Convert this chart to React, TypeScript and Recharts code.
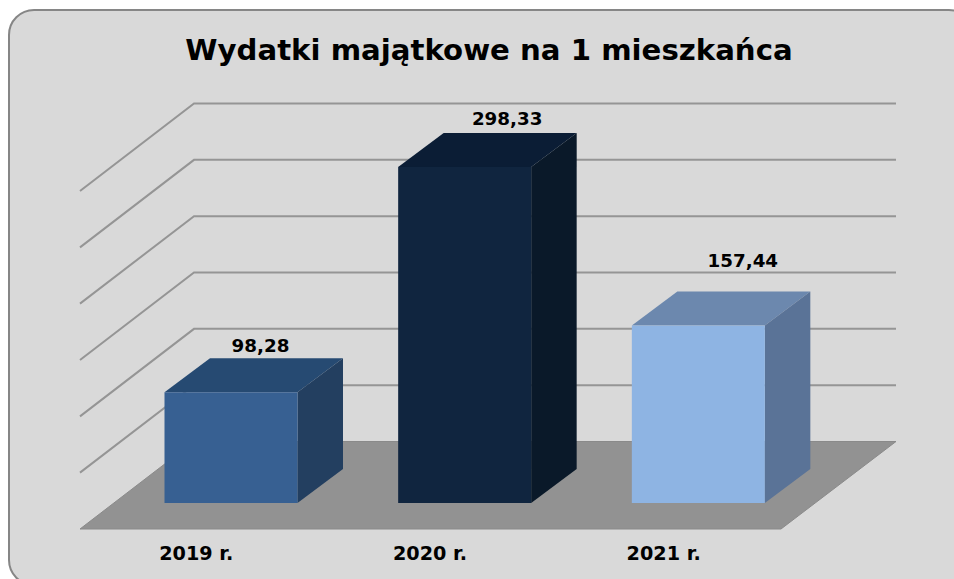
import { BarChart, Bar, XAxis, YAxis, CartesianGrid, LabelList } from 'recharts';

const years = ['2019 r.', '2020 r.', '2021 r.'];
const values = [98.28, 298.33, 157.44];
const valueLabels = ['98,28', '298,33', '157,44'];
const yTicks = [0, 50, 100, 150, 200, 250, 300];

// front, top, side
const barColors = [
  ['#376092', '#264a72', '#233f60'],
  ['#10253f', '#0b1d35', '#0a1929'],
  ['#8eb4e3', '#6c88ae', '#5a7397'],
];
// the source chart does not center its labels the same way on every bar
const labelNudge = [
  { dx: 29.5, dy: -47 },
  { dx: 42.5, dy: -48 },
  { dx: 44.5, dy: -65 },
];

const data = years.map((year, i) => ({ year, value: values[i], label: valueLabels[i], index: i }));

const FONT = '"DejaVu Sans", Verdana, sans-serif';
const BAR_DX = 45.5;
const BAR_DY = 34;

function Box3D({ x, y, width, height, index }: any) {
  const [front, top, side] = barColors[index];
  const r = x + width;
  const b = y + height;
  return (
    <g>
      <polygon points={`${x},${y} ${x + BAR_DX},${y - BAR_DY} ${r + BAR_DX},${y - BAR_DY} ${r},${y}`} fill={top} />
      <polygon points={`${r},${y} ${r + BAR_DX},${y - BAR_DY} ${r + BAR_DX},${b - BAR_DY} ${r},${b}`} fill={side} />
      <rect x={x} y={y} width={width} height={height} fill={front} />
    </g>
  );
}

// each grid tick becomes the wall line + side line, the zero tick is the floor
function WallLine({ x1, x2, y1, index }: any) {
  const left = x1 - 34.5;
  const backL = x1 + 79.5;
  const backR = x2 + 80.5;
  const backY = y1 - 61.5;
  if (index === undefined || Math.abs(y1 - 503) < 1) {
    return (
      <polygon
        points={`${left},${y1 + 26} ${backL},${backY} ${backR},${backY} ${x2 - 34.5},${y1 + 26}`}
        fill="#929292"
        stroke="#8a8a8a"
        strokeWidth={1}
      />
    );
  }
  return (
    <polyline
      points={`${left},${y1 + 26} ${backL},${backY} ${backR},${backY}`}
      fill="none"
      stroke="#959595"
      strokeWidth={2}
    />
  );
}

function ValueLabel({ x, y, width, index, value }: any) {
  const nudge = labelNudge[index];
  return (
    <text
      x={x + width / 2 + nudge.dx}
      y={y + nudge.dy}
      textAnchor="middle"
      dominantBaseline="central"
      fontFamily={FONT}
      fontWeight="bold"
      fontSize={18.3}
      fill="#000"
    >
      {value}
    </text>
  );
}

export default function App() {
  return (
    <div style={{ position: 'absolute', left: 0, top: 0, width: 954, height: 579, overflow: 'hidden', background: '#fff' }}>
      <div
        style={{
          position: 'absolute',
          left: 8,
          top: 9,
          width: 967,
          height: 577,
          boxSizing: 'border-box',
          background: '#d9d9d9',
          border: '2px solid #868686',
          borderRadius: 26,
        }}
      />
      <div
        style={{
          position: 'absolute',
          left: 0,
          top: 30,
          width: 978,
          textAlign: 'center',
          fontFamily: FONT,
          fontWeight: 'bold',
          fontSize: 29.2,
          lineHeight: '40px',
          color: '#000',
        }}
      >
        Wydatki majątkowe na 1 mieszkańca
      </div>
      <div style={{ position: 'absolute', left: 0, top: 0 }}>
        <BarChart
          width={954}
          height={579}
          data={data}
          margin={{ top: 165, right: 138.5, bottom: 0, left: 114.5 }}
          barSize={133}
        >
          <CartesianGrid vertical={false} horizontal={(props: any) => <WallLine key={props.key} {...props} />} />
          <XAxis
            dataKey="year"
            height={76}
            axisLine={false}
            tickLine={false}
            interval={0}
            tick={{ dx: -35, dy: 35, fill: '#000', fontFamily: FONT, fontWeight: 'bold', fontSize: 19.2 }}
          />
          <YAxis hide domain={[0, 300]} ticks={yTicks} />
          <Bar dataKey="value" isAnimationActive={false} shape={(props: any) => <Box3D {...props} index={props.index} />}>
            <LabelList dataKey="label" content={(props: any) => <ValueLabel {...props} />} />
          </Bar>
        </BarChart>
      </div>
    </div>
  );
}
